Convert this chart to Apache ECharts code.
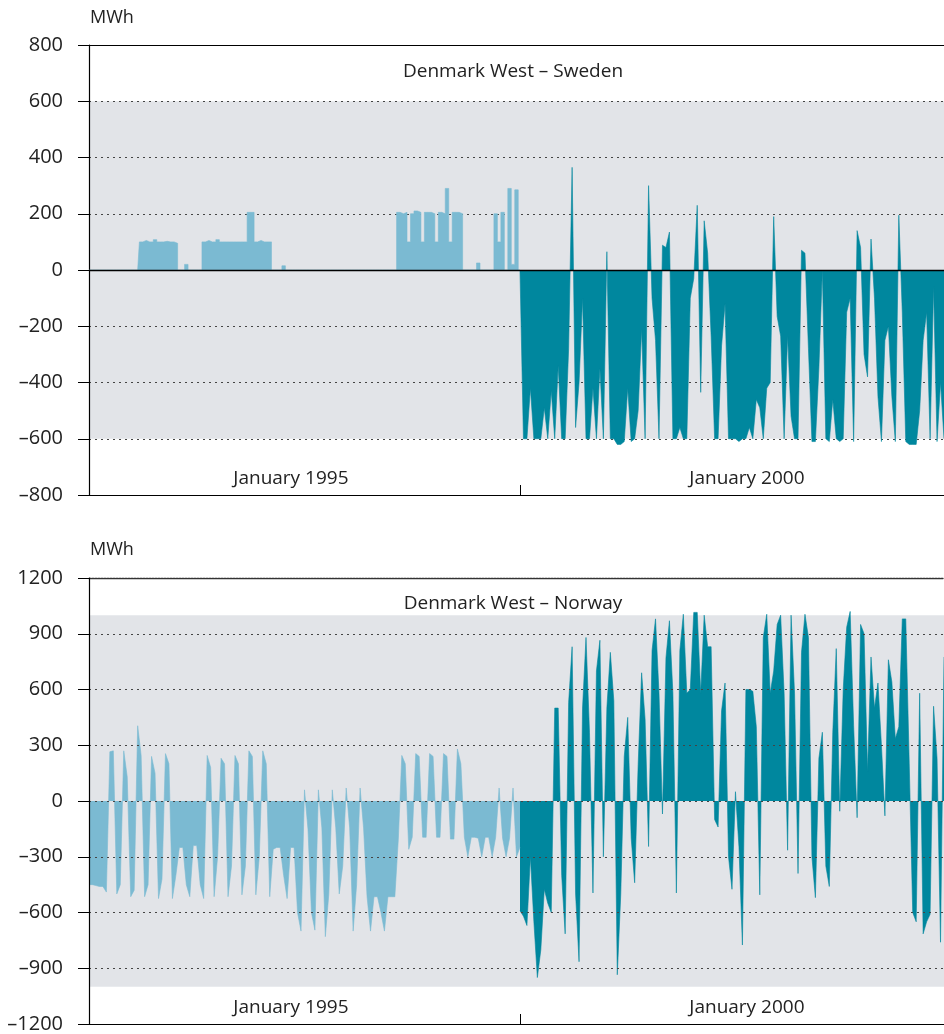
<!DOCTYPE html>
<html>
<head>
<meta charset="utf-8">
<script src="https://cdn.jsdelivr.net/npm/echarts@6/dist/echarts.min.js"></script>
<style>
html,body{margin:0;padding:0;background:#fff;}
#chart{width:944px;height:1034px;}
</style>
</head>
<body>
<div id="chart"></div>
<script>
// x axis: 6-hour steps; steps 0..124 = January 1995, steps 124..246 = January 2000 (right edge cropped)
const periodLabels = ['January 1995', 'January 2000'];
const panelTitles = ['Denmark West – Sweden', 'Denmark West – Norway'];
const unitLabel = 'MWh';

// Denmark West – Sweden, January 1995 (steps 0..124), MWh
const swedenJan1995 = [
  0,0,0,0,0,0,0,0,0,0,0,0,0,0,0,
  100,105,100,100,108,100,100,102,100,100,
  95,
  0,0,20,0,0,0,0,
  100,105,100,100,108,100,100,100,100,100,100,100,100,
  205,205,
  100,105,100,100,100,
  0,0,0,15,0,
  0,0,0,0,0,0,0,0,0,0,0,0,0,0,0,0,0,0,0,0,0,0,0,0,0,0,0,0,0,0,0,
  205,200,205,100,200,210,205,100,205,205,200,100,205,200,290,100,205,205,200,
  0,0,0,0,25,0,0,0,0,
  200,100,205,0,290,20,285,0
];
// Denmark West – Sweden, January 2000 (steps 124..246), MWh
const swedenJan2000 = [
  0,
  -600,-600,-420,-600,-600,-600,-490,-600,-430,-600,-340,-600,-600,-280,365,-560,-400,-100,-600,-600,
  -420,-600,-350,-600,65,-600,-600,-620,-620,-610,-420,-610,-600,-500,-210,-600,300,-100,-250,-600,
  88,80,135,-600,-600,-560,-600,-600,-100,-30,230,-435,175,60,-235,-600,-600,-270,-120,-600,
  -600,-600,-610,-600,-600,-560,-600,-460,-490,-600,-420,-400,190,-165,-235,-600,-235,-520,-600,-600,
  70,60,-280,-610,-610,-350,0,-600,-610,-460,-600,-610,-600,-150,-100,-610,140,80,-300,-380,
  110,-100,-450,-610,-250,-200,-450,-610,195,-150,-610,-620,-620,-620,-500,-250,-150,-600,-60,-610,
  -400,-600
];
// Denmark West – Norway, January 1995 (steps 0..124), MWh
const norwayJan1995 = [
  -450,-450,-455,-460,-460,-490,265,270,-500,-450,
  270,130,-515,-480,405,245,-515,-450,240,150,
  -525,-420,255,200,-525,-400,-250,-250,-450,-515,
  -240,-240,-450,-525,245,180,-515,-300,230,200,
  -515,-350,245,200,-505,-350,270,240,-505,-300,
  270,200,-515,-260,-250,-250,-400,-525,-250,-250,
  -600,-700,60,-150,-600,-695,60,-145,-730,-500,
  60,-145,-500,-350,70,-145,-700,-450,70,-145,
  -515,-700,-515,-515,-600,-700,-515,-515,-515,-205,
  245,200,-260,-195,255,240,-195,-195,255,240,
  -195,-195,255,240,-205,-205,280,200,-195,-300,
  -195,-195,-200,-300,-195,-195,-300,-195,70,-200,
  -300,-200,70,-300,-250
];
// Denmark West – Norway, January 2000 (steps 124..246), MWh
const norwayJan2000 = [
  -590,
  -620,-670,-300,-650,-950,-800,-475,-550,-600,500,500,-400,-715,530,830,-500,-865,500,880,370,
  -495,700,865,-300,500,800,540,-935,-500,240,450,-200,-440,195,690,440,-245,810,980,580,
  -70,770,970,580,-495,810,1005,580,600,1015,1015,580,1000,830,830,-100,-140,485,635,-300,
  -475,50,-245,-775,600,600,590,400,-505,880,1005,580,700,950,1000,580,-265,1000,580,-390,
  800,1005,880,-300,-520,230,370,-350,-460,370,820,-55,600,935,1020,405,-90,950,900,160,
  775,500,635,300,-80,760,640,335,400,980,980,200,-600,-650,580,-715,-650,-610,510,230,
  -760,775
];

const LIGHT = '#7bbad2';
const TEAL = '#00879e';
const TEXT = '#222';
const X_MAX = 246;
const X_SPLIT = 124;

function pairs(values, start) { return values.map((v, i) => [start + i, v]); }
const dash = v => String(v).replace('-', '\u2013');

function xAxesFor(gi, topLineStyle) {
  return [
    {
      type: 'value', gridIndex: gi, min: 0, max: X_MAX, position: 'bottom',
      axisLine: { show: true, onZero: false, lineStyle: { color: '#000', width: 1.2 } },
      axisTick: { show: true, inside: true, length: 10, customValues: [X_SPLIT], lineStyle: { color: '#000', width: 1 } },
      axisLabel: {
        show: true, inside: true, margin: 7, customValues: [58.1, 189.3],
        formatter: v => (v < X_SPLIT ? periodLabels[0] : periodLabels[1]),
        fontSize: 19, color: TEXT, fontFamily: 'Open Sans'
      },
      splitLine: { show: false }
    },
    {
      type: 'value', gridIndex: gi, min: 0, max: X_MAX, position: 'top',
      axisLine: { show: true, onZero: false, lineStyle: topLineStyle },
      axisTick: { show: false }, axisLabel: { show: false }, splitLine: { show: false }
    }
  ];
}

function yAxisFor(gi, min, max, interval, z) {
  return {
    type: 'value', gridIndex: gi, min: min, max: max, interval: interval, z: z,
    axisLine: { show: true, onZero: false, lineStyle: { color: '#000', width: 1.2 } },
    axisTick: { show: true, inside: false, length: 11, lineStyle: { color: '#000', width: 1 } },
    axisLabel: { margin: 26, fontSize: 20, color: TEXT, fontFamily: 'Open Sans', formatter: dash },
    splitLine: { show: true, showMinLine: false, showMaxLine: false, lineStyle: { color: '#444', width: 1.2, type: [2, 4] } }
  };
}

function areaSeries(xi, yi, values, start, color, extra) {
  return Object.assign({
    type: 'line', xAxisIndex: xi, yAxisIndex: yi,
    data: pairs(values, start), showSymbol: false, symbol: 'none', sampling: 'none',
    lineStyle: { width: 0.6, color: color }, itemStyle: { color: color },
    areaStyle: { color: color, opacity: 1, origin: 0 }, z: 2, silent: true
  }, extra || {});
}

function bandSeries(xi, yi, lo, hi) {
  return {
    type: 'line', xAxisIndex: xi, yAxisIndex: yi, data: [], silent: true, z: 0,
    markArea: { silent: true, itemStyle: { color: '#e2e4e8' }, data: [[{ yAxis: lo }, { yAxis: hi }]] }
  };
}

const chart = echarts.init(document.getElementById('chart'));
chart.setOption({
  animation: false,
  backgroundColor: '#fff',
  textStyle: { fontFamily: 'Open Sans' },
  grid: [
    { left: 89, top: 45, width: 855, height: 450 },
    { left: 89, top: 578, width: 855, height: 451 }
  ],
  xAxis: [].concat(
    xAxesFor(0, { color: '#000', width: 1.2 }),
    xAxesFor(1, { color: '#333', width: 1.4, type: [2, 1] })
  ),
  yAxis: [
    yAxisFor(0, -800, 800, 200, 1.5),
    yAxisFor(1, -1200, 1200, 300, 3)
  ],
  graphic: [
    { type: 'text', x: 90, y: 18, style: { text: unitLabel, fontSize: 18, fill: TEXT, fontFamily: 'Open Sans', textAlign: 'left', align: 'left', textVerticalAlign: 'middle', verticalAlign: 'middle' } },
    { type: 'text', x: 90, y: 550, style: { text: unitLabel, fontSize: 18, fill: TEXT, fontFamily: 'Open Sans', textAlign: 'left', align: 'left', textVerticalAlign: 'middle', verticalAlign: 'middle' } },
    { type: 'text', x: 513, y: 72, z: 10, style: { text: panelTitles[0], fontSize: 19, fill: TEXT, fontFamily: 'Open Sans', textAlign: 'center', align: 'center', textVerticalAlign: 'middle', verticalAlign: 'middle' } },
    { type: 'text', x: 513, y: 604, z: 10, style: { text: panelTitles[1], fontSize: 19, fill: TEXT, fontFamily: 'Open Sans', textAlign: 'center', align: 'center', textVerticalAlign: 'middle', verticalAlign: 'middle' } }
  ],
  series: [
    bandSeries(0, 0, -600, 600),
    areaSeries(0, 0, swedenJan1995, 0, LIGHT, { step: 'middle' }),
    areaSeries(0, 0, swedenJan2000, X_SPLIT, TEAL, {
      markLine: { silent: true, symbol: 'none', label: { show: false }, lineStyle: { color: '#000', width: 1.4, type: 'solid' }, data: [{ yAxis: 0 }] }
    }),
    bandSeries(2, 1, -1000, 1000),
    areaSeries(2, 1, norwayJan1995, 0, LIGHT),
    areaSeries(2, 1, norwayJan2000, X_SPLIT, TEAL)
  ]
});
</script>
</body>
</html>
